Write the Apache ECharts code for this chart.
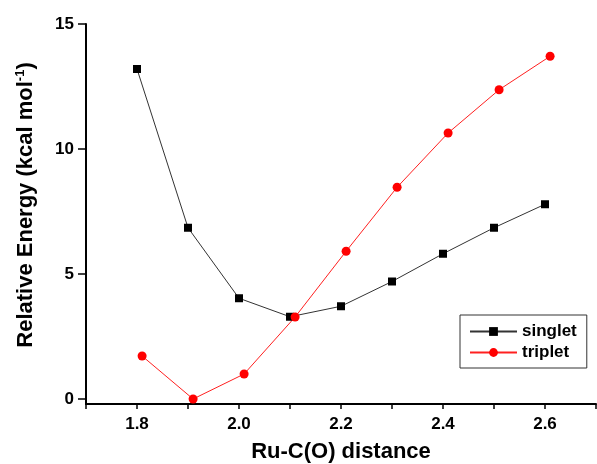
<!DOCTYPE html>
<html>
<head>
<meta charset="utf-8">
<script src="https://cdn.jsdelivr.net/npm/echarts@6/dist/echarts.min.js"></script>
<style>
html,body{margin:0;padding:0;background:#fff;}
#chart{width:597px;height:464px;}
</style>
</head>
<body>
<div id="chart"></div>
<script>
// Data
var singletX = [1.80, 1.90, 2.00, 2.10, 2.20, 2.30, 2.40, 2.50, 2.60];
var singletY = [13.20, 6.85, 4.03, 3.29, 3.71, 4.70, 5.81, 6.85, 7.79];
var tripletX = [1.81, 1.91, 2.01, 2.11, 2.21, 2.31, 2.41, 2.51, 2.61];
var tripletY = [1.72, 0.00, 1.00, 3.28, 5.91, 8.47, 10.64, 12.37, 13.71];
var xTicks = [1.7, 1.8, 1.9, 2.0, 2.1, 2.2, 2.3, 2.4, 2.5, 2.6, 2.7];
var xLabels = [1.8, 2.0, 2.2, 2.4, 2.6];
var yTicks = [0, 5, 10, 15];
var seriesNames = ['singlet', 'triplet'];

function pairs(xs, ys) { return xs.map(function (x, i) { return [x, ys[i]]; }); }

var FONT = "'Liberation Sans', Arial, sans-serif";
var chart = echarts.init(document.getElementById('chart'), null, {renderer: 'canvas'});
chart.setOption({
  animation: false,
  backgroundColor: '#ffffff',
  textStyle: {fontFamily: FONT},
  grid: {left: 86, top: 24, width: 510, height: 380, containLabel: false, outerBoundsMode: 'none'},
  legend: {
    data: seriesNames,
    orient: 'vertical',
    left: 460, top: 315,
    padding: [6, 10, 5, 9],
    itemGap: 0,
    itemWidth: 47,
    itemHeight: 11,
    borderColor: '#333',
    borderWidth: 1,
    textStyle: {fontFamily: FONT, fontSize: 17, fontWeight: 'bold', color: '#000', lineHeight: 21}
  },
  xAxis: {
    type: 'value',
    min: 1.7, max: 2.7,
    name: 'Ru-C(O) distance',
    nameLocation: 'middle',
    nameGap: 37,
    nameTextStyle: {fontFamily: FONT, fontSize: 22, fontWeight: 'bold', color: '#000'},
    axisLine: {show: true, onZero: false, lineStyle: {color: '#000', width: 2}},
    axisTick: {show: true, inside: false, length: 5, customValues: xTicks, lineStyle: {color: '#000', width: 1.5}},
    axisLabel: {customValues: xLabels, margin: 12, fontFamily: FONT, fontSize: 17, fontWeight: 'bold', color: '#000',
      formatter: function (v) { return Number(v).toFixed(1); }},
    splitLine: {show: false}
  },
  yAxis: {
    type: 'value',
    min: -0.2, max: 15,
    name: '{a|Relative Energy (kcal mol}{s|-1}{a|)}',
    nameLocation: 'middle',
    nameRotate: 90,
    nameGap: 48,
    nameTextStyle: {
      padding: [0, 0, 0, 18],
      rich: {
        a: {fontFamily: FONT, fontSize: 22, fontWeight: 'bold', color: '#000', lineHeight: 24},
        s: {fontFamily: FONT, fontSize: 13, fontWeight: 'bold', color: '#000', lineHeight: 24, verticalAlign: 'top'}
      }
    },
    axisLine: {show: true, onZero: false, lineStyle: {color: '#000', width: 2}},
    axisTick: {show: true, inside: false, length: 8, customValues: yTicks, lineStyle: {color: '#000', width: 1.5}},
    axisLabel: {customValues: yTicks, margin: 12, fontFamily: FONT, fontSize: 17, fontWeight: 'bold', color: '#000'},
    splitLine: {show: false}
  },
  series: [
    {
      name: seriesNames[0],
      type: 'line',
      data: pairs(singletX, singletY),
      symbol: 'rect',
      symbolSize: 8,
      color: '#000',
      itemStyle: {color: '#000'},
      lineStyle: {color: '#333', width: 1}
    },
    {
      name: seriesNames[1],
      type: 'line',
      data: pairs(tripletX, tripletY),
      symbol: 'circle',
      symbolSize: 9,
      color: '#ff0000',
      itemStyle: {color: '#ff0000'},
      lineStyle: {color: '#ff2020', width: 1}
    }
  ]
});
</script>
</body>
</html>
